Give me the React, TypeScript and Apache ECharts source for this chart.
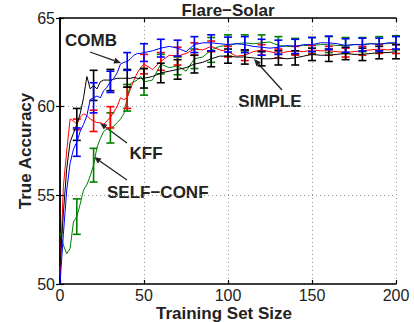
import React, { useEffect, useRef } from "react";
import * as echarts from "echarts";

// Training set sizes at which the curves were read
const xs = [0, 2, 4, 6, 8, 10, 12, 14, 16, 18, 20, 22, 24, 26, 28, 30, 32, 34, 36, 38, 40, 42, 44, 46, 48, 50,
  55, 60, 65, 70, 75, 80, 85, 90, 95, 100, 105, 110, 115, 120, 125, 130, 135, 140, 145, 150, 155, 160, 165, 170,
  175, 180, 185, 190, 195, 200];

const combVals = [50.0, 52.8, 55.3, 56.8, 57.6, 58.0, 58.6, 59.0, 59.5, 60.4, 60.5, 60.6, 60.5, 60.9, 61.1, 61.4,
  61.6, 61.9, 62.4, 62.5, 62.55, 62.7, 62.9, 63.0, 63.0, 63.05,
  63.15, 63.3, 63.4, 63.3, 63.1, 63.5, 63.6, 63.6, 63.55, 63.5, 63.55, 63.5, 63.4, 63.35, 63.3, 63.35, 63.45, 63.4,
  63.5, 63.5, 63.6, 63.6, 63.55, 63.45, 63.5, 63.5, 63.55, 63.5, 63.6, 63.6];

const kffVals = [50.5, 55.5, 57.5, 59.3, 59.2, 59.0, 59.4, 59.6, 59.5, 59.3, 59.2, 59.1, 59.1, 59.0, 59.2, 59.4,
  59.7, 60.0, 60.5, 60.4, 60.5, 61.0, 61.5, 61.9, 62.2, 62.4,
  62.1, 62.55, 62.9, 62.85, 63.0, 63.25, 63.2, 63.4, 63.2, 63.1, 62.85, 62.9, 63.1, 63.2, 63.1, 63.0, 63.1, 63.15,
  63.1, 63.2, 63.15, 63.15, 63.1, 63.05, 63.1, 63.15, 63.2, 63.25, 63.2, 63.25];

const selfConfVals = [52.9, 52.2, 51.7, 52.0, 53.5, 53.8, 54.5, 55.3, 55.6, 56.1, 56.7, 57.7, 58.2, 58.6, 58.75,
  58.8, 58.9, 59.1, 59.3, 59.6, 60.5, 61.3, 61.4, 61.5, 61.7, 61.4,
  61.5, 62.4, 62.2, 62.3, 62.0, 62.7, 62.8, 63.2, 63.4, 63.45, 63.55, 63.6, 63.55, 63.6, 63.65, 63.45, 63.4, 63.4,
  63.45, 63.45, 63.5, 63.5, 63.45, 63.45, 63.5, 63.5, 63.55, 63.55, 63.55, 63.6];

const simpleVals = [51.0, 54.0, 56.5, 58.0, 58.5, 59.0, 59.6, 60.5, 61.7, 61.0, 61.2, 61.0, 61.4, 61.5, 61.5, 61.5,
  61.55, 61.6, 61.6, 61.6, 61.6, 61.6, 61.65, 61.6, 61.6, 61.6,
  61.7, 61.9, 62.0, 62.1, 62.2, 62.4, 62.5, 62.7, 62.85, 62.85, 62.8, 62.8, 62.75, 62.7, 62.7, 62.75, 62.7, 62.75,
  62.85, 62.95, 62.9, 62.9, 62.95, 63.0, 62.95, 62.95, 63.0, 63.05, 63.05, 63.1];

// Error bar positions and half-widths
const barXs = [10, 20, 30, 40, 50, 60, 70, 80, 90, 100, 110, 120, 130, 140, 150, 160, 170, 180, 190, 200];
const combErr = [0.8, 0.85, 0.6, 0.5, 0.5, 0.5, 0.45, 0.45, 0.45, 0.42, 0.45, 0.45, 0.4, 0.4, 0.4, 0.38, 0.38, 0.36, 0.36, 0.35];
const kffErr = [0.3, 0.6, 0.6, 0.6, 0.55, 0.5, 0.5, 0.35, 0.3, 0.3, 0.3, 0.3, 0.25, 0.25, 0.25, 0.25, 0.25, 0.25, 0.25, 0.25];
const selfConfErr = [1.0, 0.95, 0.85, 0.75, 0.75, 0.55, 0.5, 0.55, 0.7, 0.6, 0.45, 0.45, 0.5, 0.45, 0.45, 0.45, 0.45, 0.4, 0.4, 0.4];
const simpleErr = [0.9, 0.85, 0.6, 0.5, 0.55, 0.55, 0.55, 0.5, 0.45, 0.4, 0.4, 0.4, 0.4, 0.4, 0.35, 0.35, 0.35, 0.35, 0.35, 0.4];

const FONT = "'Liberation Sans', Arial, Helvetica, sans-serif";
const TXT = "#222";

function pairs(vals: number[]) {
  return xs.map((x, i) => [x, vals[i]]);
}
function bars(vals: number[], err: number[]) {
  return barXs.map((x, i) => {
    const c = vals[xs.indexOf(x)];
    return [x, c - err[i], c + err[i]];
  });
}

function errSeries(name: string, color: string, data: number[][], z: number) {
  return {
    type: "custom",
    name,
    z,
    data,
    clip: false,
    renderItem: (params: any, api: any) => {
      const x = api.value(0);
      const lo = api.coord([x, api.value(1)]);
      const hi = api.coord([x, api.value(2)]);
      const w = 4;
      const st = { stroke: color, lineWidth: 1.6 };
      return {
        type: "group",
        children: [
          { type: "line", shape: { x1: lo[0], y1: lo[1], x2: hi[0], y2: hi[1] }, style: st },
          { type: "line", shape: { x1: lo[0] - w, y1: lo[1], x2: lo[0] + w, y2: lo[1] }, style: st },
          { type: "line", shape: { x1: hi[0] - w, y1: hi[1], x2: hi[0] + w, y2: hi[1] }, style: st },
        ],
      };
    },
  };
}

function lineSeries(name: string, color: string, vals: number[], z: number) {
  return {
    type: "line",
    name,
    z,
    data: pairs(vals),
    showSymbol: false,
    symbol: "none",
    lineStyle: { color, width: 1 },
    itemStyle: { color },
  };
}

function arrow(x1: number, y1: number, x2: number, y2: number) {
  const ang = Math.atan2(y2 - y1, x2 - x1);
  const L = 7, W = 3;
  const bx = x2 - L * Math.cos(ang), by = y2 - L * Math.sin(ang);
  const px = -Math.sin(ang) * W, py = Math.cos(ang) * W;
  return [
    { type: "line", shape: { x1, y1, x2: bx, y2: by }, style: { stroke: "#222", lineWidth: 1.3 } },
    {
      type: "polygon",
      shape: { points: [[x2, y2], [bx + px, by + py], [bx - px, by - py]] },
      style: { fill: "#222" },
    },
  ];
}

function label(text: string, x: number, y: number, align = "center") {
  return {
    type: "text",
    x,
    y,
    style: {
      text,
      font: `bold 17px ${FONT}`,
      lineHeight: 16,
      fill: TXT,
      align,
      verticalAlign: "middle",
    },
  };
}

export default function App() {
  const ref = useRef<HTMLDivElement>(null);
  useEffect(() => {
    const chart = echarts.init(ref.current!, null, { renderer: "svg" });
    const axisCommon = {
      type: "value",
      axisLine: { show: true, lineStyle: { color: "#000", width: 1.5 } },
      axisTick: { show: true, inside: true, length: 4, lineStyle: { color: "#000", width: 1.2 } },
    };
    chart.setOption({
      animation: false,
      backgroundColor: "#fff",
      grid: { left: 60, right: 18, top: 18, bottom: 38, show: false },
      xAxis: [
        {
          ...axisCommon,
          min: 0,
          max: 200,
          interval: 50,
          position: "bottom",
          axisLabel: { fontSize: 16, lineHeight: 14, color: TXT, fontFamily: FONT, margin: 4 },
          splitLine: { show: true, lineStyle: { color: "#999", type: [1, 3], width: 1 } },
        },
        {
          ...axisCommon,
          min: 0,
          max: 200,
          interval: 50,
          position: "top",
          axisLabel: { show: false },
          splitLine: { show: false },
        },
      ],
      yAxis: [
        {
          ...axisCommon,
          min: 50,
          max: 65,
          interval: 5,
          position: "left",
          axisLabel: { fontSize: 16, lineHeight: 16, color: TXT, fontFamily: FONT, margin: 5 },
          splitLine: { show: true, lineStyle: { color: "#999", type: [1, 3], width: 1 } },
        },
        {
          ...axisCommon,
          min: 50,
          max: 65,
          interval: 5,
          position: "right",
          axisLabel: { show: false },
          splitLine: { show: false },
        },
      ],
      series: [
        lineSeries("SELF−CONF", "#008000", selfConfVals, 2),
        lineSeries("KFF", "#ff0000", kffVals, 3),
        lineSeries("SIMPLE", "#000000", simpleVals, 4),
        lineSeries("COMB", "#0000ff", combVals, 5),
        errSeries("SELF−CONF err", "#008000", bars(selfConfVals, selfConfErr), 2),
        errSeries("KFF err", "#ff0000", bars(kffVals, kffErr), 3),
        errSeries("SIMPLE err", "#000000", bars(simpleVals, simpleErr), 4),
        errSeries("COMB err", "#0000ff", bars(combVals, combErr), 5),
      ],
      graphic: [
        label("Flare−Solar", 228, 10),
        {
          type: "text",
          x: 25,
          y: 151,
          rotation: Math.PI / 2,
          style: { text: "True Accuracy", font: `bold 17px ${FONT}`, lineHeight: 16, fill: TXT, align: "center", verticalAlign: "middle" },
        },
        label("Training Set Size", 224, 313),
        label("COMB", 91, 40),
        ...arrow(90, 52, 121, 63),
        label("SIMPLE", 270, 101),
        ...arrow(282, 90, 254, 59),
        label("KFF", 146, 153),
        ...arrow(127, 143, 100, 123),
        label("SELF−CONF", 107, 192, "left"),
        ...arrow(127, 180, 94, 157),
      ],
    });
    return () => chart.dispose();
  }, []);
  return (
    <div
      ref={ref}
      style={{ position: "fixed", left: 0, top: 0, width: 414, height: 322, background: "#fff" }}
    />
  );
}
